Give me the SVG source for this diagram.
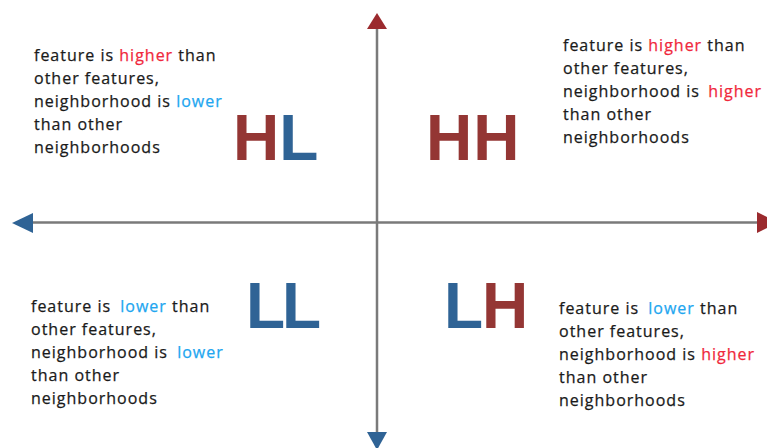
<svg xmlns="http://www.w3.org/2000/svg" width="767" height="448" viewBox="0 0 767 448">
<style>
.desc{font-family:"Open Sans","DejaVu Sans",sans-serif;font-size:16px;letter-spacing:1px;fill:#1a1a1a;stroke:#1a1a1a;stroke-width:0.25}
.hi{fill:#f0283c;stroke:#f0283c}
.lo{fill:#22a6f0;stroke:#22a6f0}
.big{font-family:"Liberation Sans",Arial,sans-serif;font-weight:bold;font-size:64px}
.r{fill:#943634}
.b{fill:#2f6395}
.axis{stroke:#7a7a7a;stroke-width:2.5;fill:none}
</style>
<rect width="767" height="448" fill="#ffffff"/>
<g id="connectors">
<line class="axis" x1="377" y1="20" x2="377" y2="440"/>
<line class="axis" x1="25" y1="222.5" x2="762" y2="222.5"/>
<polygon points="377,13 367,29 387,29" fill="#9b2a2e"/>
<polygon points="367,432 387,432 377,450" fill="#2f6395"/>
<polygon points="12,223 33,213 33,233" fill="#2f6395"/>
<polygon points="757,212 757,233 778,222.5" fill="#9b2a2e"/>
</g>
<g id="HL"><text class="big" x="233" y="160"><tspan class="r">H</tspan><tspan class="b">L</tspan></text></g>
<g id="HH"><text class="big r" x="426" y="160" letter-spacing="1">HH</text></g>
<g id="LL"><text class="big b" x="246" y="328" letter-spacing="-3">LL</text></g>
<g id="LH"><text class="big" x="444" y="328" letter-spacing="-1"><tspan class="b">L</tspan><tspan class="r">H</tspan></text></g>
<g id="desc-HL">
<text class="desc" x="34" y="61">feature is <tspan class="hi">higher</tspan> than</text>
<text class="desc" x="34" y="84">other features,</text>
<text class="desc" x="34" y="107">neighborhood is <tspan class="lo">lower</tspan></text>
<text class="desc" x="34" y="130">than other</text>
<text class="desc" x="34" y="153">neighborhoods</text>
</g>
<g id="desc-HH">
<text class="desc" x="563" y="51">feature is <tspan class="hi">higher</tspan> than</text>
<text class="desc" x="563" y="74">other features,</text>
<text class="desc" x="563" y="97">neighborhood is <tspan class="hi" dx="3">higher</tspan></text>
<text class="desc" x="563" y="120">than other</text>
<text class="desc" x="563" y="143">neighborhoods</text>
</g>
<g id="desc-LL">
<text class="desc" x="31" y="312">feature is <tspan class="lo" dx="4">lower</tspan> than</text>
<text class="desc" x="31" y="335">other features,</text>
<text class="desc" x="31" y="358">neighborhood is <tspan class="lo" dx="4">lower</tspan></text>
<text class="desc" x="31" y="381">than other</text>
<text class="desc" x="31" y="404">neighborhoods</text>
</g>
<g id="desc-LH">
<text class="desc" x="559" y="314">feature is <tspan class="lo" dx="4">lower</tspan> than</text>
<text class="desc" x="559" y="337">other features,</text>
<text class="desc" x="559" y="360">neighborhood is <tspan class="hi">higher</tspan></text>
<text class="desc" x="559" y="383">than other</text>
<text class="desc" x="559" y="406">neighborhoods</text>
</g>
</svg>
